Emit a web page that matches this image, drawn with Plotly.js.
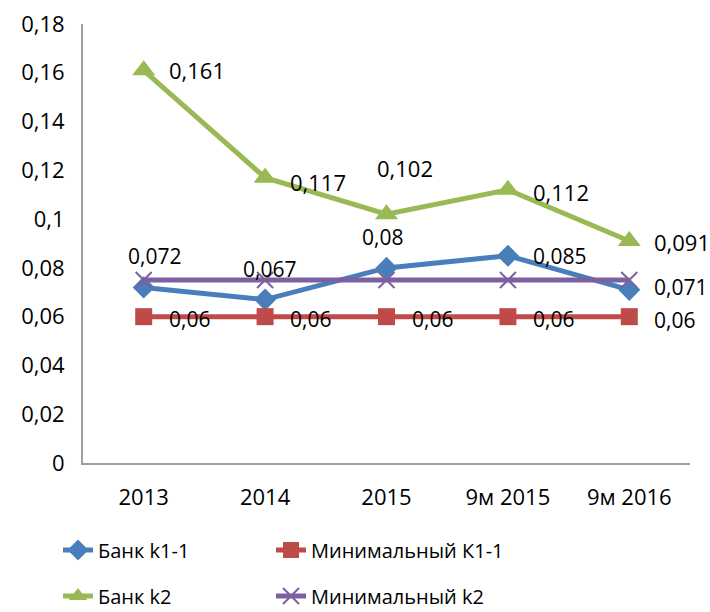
<!DOCTYPE html>
<html><head><meta charset="utf-8">
<script src="https://cdn.plot.ly/plotly-3.0.1.min.js"></script>
<style>html,body{margin:0;padding:0;background:#fff}#chart{width:710px;height:612px}</style>
</head><body><div id="chart"></div>
<script>
const categories = ['2013', '2014', '2015', '9м 2015', '9м 2016'];
const bankK11 = [0.072, 0.067, 0.08, 0.085, 0.071];
const minK11 = [0.06, 0.06, 0.06, 0.06, 0.06];
const bankK2 = [0.161, 0.117, 0.102, 0.112, 0.091];
const minK2 = [0.075, 0.075, 0.075, 0.075, 0.075];
const names = ['Банк k1-1', 'Минимальный К1-1', 'Банк k2', 'Минимальный k2'];

const FONT = 'Open Sans, Noto Sans, sans-serif';
const FS = 22;

function fmt(v) { return String(v).replace('.', ','); }

const traces = [
  {x: categories, y: bankK11, name: names[0], mode: 'lines+markers',
   line: {color: '#4A7EBB', width: 5}, marker: {symbol: 'diamond', size: 17, color: '#4A7EBB'}, legend: 'legend'},
  {x: categories, y: minK11, name: names[1], mode: 'lines+markers',
   line: {color: '#BE4B48', width: 5}, marker: {symbol: 'square', size: 17, color: '#BE4B48'}, legend: 'legend2'},
  {x: categories, y: bankK2, name: names[2], mode: 'lines+markers',
   line: {color: '#98B954', width: 5}, marker: {symbol: 'triangle-up', size: 20, color: '#98B954'}, legend: 'legend3'},
  {x: categories, y: minK2, name: names[3], mode: 'lines+markers',
   line: {color: '#7D60A0', width: 5}, marker: {symbol: 'x-thin', size: 16, line: {color: '#7D60A0', width: 2}, color: '#7D60A0'}, legend: 'legend4'}
];

// label placement: 'r' right of point, 't' above point
const placeBank = ['t', 't', 't', 'r', 'r'];
const placeK2 = ['r', 'r', 't', 'r', 'r'];
const topDx = [11, 4, -4, 0, 0];
const topDxK2 = [0, 0, 18, 0, 0];
const rDyBank = [0, 0, 0, 0, 3];
const rDyMin = [-2, -2, -2, -2, -3];
const rDyK2 = [0, -4, 0, -2, -1];

const annotations = [];
function addLabels(vals, place, dxs, dyTop, rdy, size) {
  vals.forEach((v, i) => {
    const a = {x: i, y: v, xref: 'x', yref: 'y', text: fmt(v), showarrow: false,
      font: {family: FONT, size: size, color: '#000'}, yanchor: 'middle'};
    if (place[i] === 'r') { a.xanchor = 'left'; a.xshift = 23; a.yshift = rdy[i]; }
    else { a.xanchor = 'center'; a.xshift = dxs[i]; a.yshift = dyTop; }
    annotations.push(a);
  });
}
addLabels(bankK11, placeBank, topDx, 31, rDyBank, 21);
addLabels(minK11, ['r','r','r','r','r'], [0,0,0,0,0], 0, rDyMin, 21);
addLabels(bankK2, placeK2, topDxK2, 46, rDyK2, 22);

function leg(x, y) {
  return {orientation: 'h', x: x, y: y, xref: 'container', yref: 'container', xanchor: 'left', yanchor: 'middle',
    font: {family: FONT, size: 20}, bgcolor: 'rgba(0,0,0,0)', borderwidth: 0};
}

const layout = {
  width: 710, height: 612,
  margin: {l: 83, r: 20, t: 24, b: 149},
  paper_bgcolor: '#fff', plot_bgcolor: '#fff',
  separators: ', ',
  font: {family: FONT, size: FS, color: '#000'},
  showlegend: true,
  xaxis: {type: 'category', range: [-0.5, 4.5], showline: true, linecolor: '#A0A0A0', linewidth: 2,
    showgrid: false, zeroline: false, ticks: '', ticklabelstandoff: 14, tickfont: {family: FONT, size: FS}},
  yaxis: {range: [0, 0.18], dtick: 0.02, showline: true, linecolor: '#A0A0A0', linewidth: 2,
    showgrid: false, zeroline: false, ticks: '', ticklabelstandoff: 12, tickfont: {family: FONT, size: FS}},
  legend: leg(58/710, 1 - 550/612),
  legend2: leg(271/710, 1 - 550/612),
  legend3: leg(58/710, 1 - 596/612),
  legend4: leg(271/710, 1 - 596/612),
  annotations: annotations
};

Plotly.newPlot('chart', traces, layout, {displayModeBar: false, staticPlot: true});
</script>
</body></html>
